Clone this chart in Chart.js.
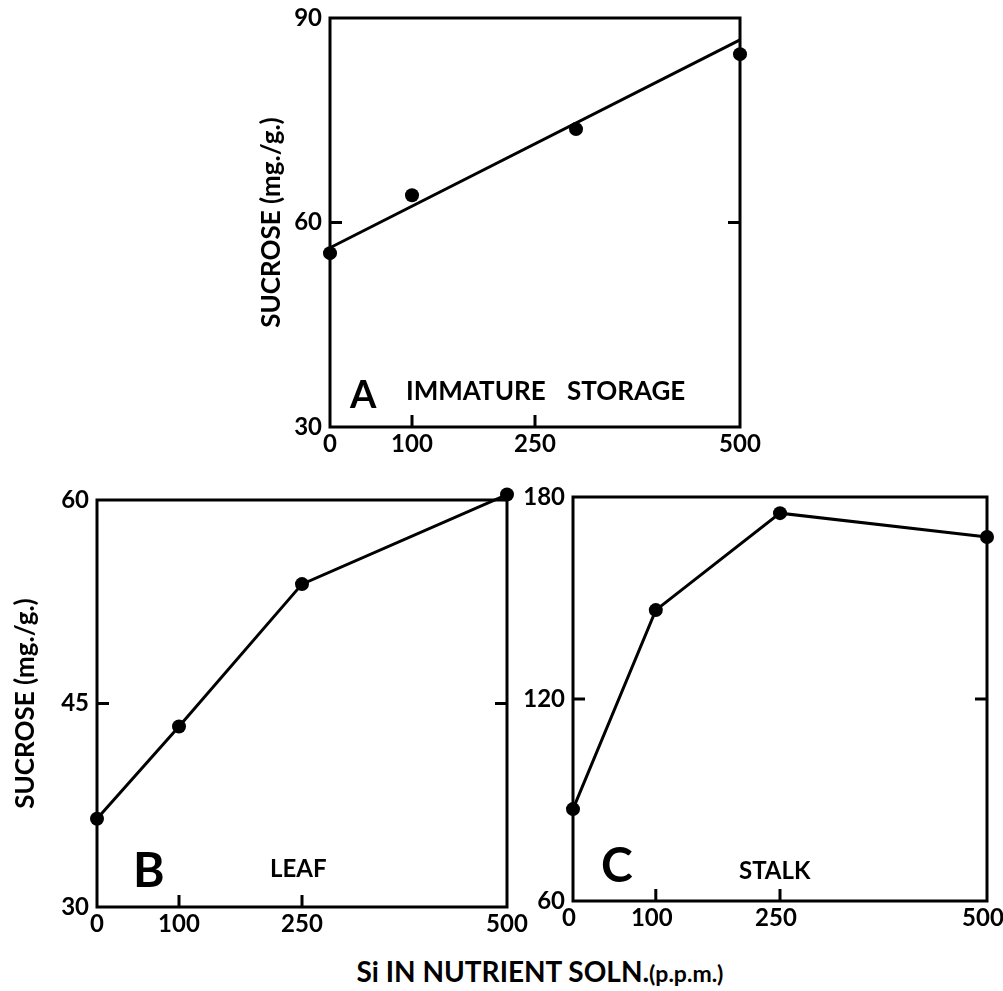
<!DOCTYPE html>
<html>
<head>
<meta charset="utf-8">
<script src="https://cdn.jsdelivr.net/npm/chart.js@4/dist/chart.umd.min.js"></script>
<style>
    body { margin: 0; background: #fff; }
    #page { position: relative; width: 1003px; height: 991px; font-family: Lato, sans-serif; font-weight: 700; color: #000; }
    canvas { position: absolute; }
    #xTitle { position: absolute; left: 290px; width: 500px; top: 957px; text-align: center; font-size: 28px; line-height: 1; white-space: pre; }
    #xTitle span { font-size: 23px; }
</style>
</head>
<body>
<div id="page">
    <canvas id="panelA" width="540" height="470" style="left:230px; top:0px"></canvas>
    <canvas id="panelB" width="545" height="470" style="left:0px; top:480px"></canvas>
    <canvas id="panelC" width="483" height="470" style="left:520px; top:480px"></canvas>
    <div id="xTitle">Si IN NUTRIENT SOLN.<span>(p.p.m.)</span></div>
</div>
<script>
const doseTicks = [0, 100, 250, 500]

const storageDose = [0, 100, 300, 500]
const storageSucrose = [55.5, 64.0, 73.7, 84.7]
const storageFitDose = [0, 500]
const storageFitSucrose = [56.3, 86.8]
const storageTicks = [30, 60, 90]

const leafDose = [0, 100, 250, 500]
const leafSucrose = [36.5, 43.3, 53.8, 60.4]
const leafTicks = [30, 45, 60]

const stalkDose = [0, 100, 250, 500]
const stalkSucrose = [87.3, 146.4, 175.2, 168.1]
const stalkTicks = [60, 120, 180]

const yTitleText = "SUCROSE (mg./g.)"
const tickFont = { family: "Lato", weight: "bold", size: 24 }

function toPoints(xs, ys) {
    return xs.map((x, i) => ({ x, y: ys[i] }))
}

// box round the plot plus the short inner tick marks
const framePlugin = {
    id: "frame",
    beforeDatasetsDraw(chart) {
        const { ctx, chartArea: a, scales } = chart
        const len = 12
        ctx.save()
        ctx.strokeStyle = "#000"
        ctx.lineWidth = 3
        ctx.strokeRect(a.left, a.top, a.right - a.left, a.bottom - a.top)
        ctx.beginPath()
        scales.y.ticks.slice(1, -1).forEach((t) => {
            const py = scales.y.getPixelForValue(t.value)
            ctx.moveTo(a.left, py)
            ctx.lineTo(a.left + len, py)
            ctx.moveTo(a.right, py)
            ctx.lineTo(a.right - len, py)
        })
        scales.x.ticks.slice(1, -1).forEach((t) => {
            const px = scales.x.getPixelForValue(t.value)
            ctx.moveTo(px, a.bottom)
            ctx.lineTo(px, a.bottom - len)
        })
        ctx.stroke()
        ctx.restore()
    }
}

const panelTextPlugin = {
    id: "panelText",
    afterDatasetsDraw(chart, args, opts) {
        const { ctx, chartArea: a } = chart
        ctx.save()
        ctx.fillStyle = "#000"
        ctx.textAlign = "left"
        ctx.textBaseline = "alphabetic"
        ;(opts.items || []).forEach((item) => {
            ctx.font = `700 ${item.size}px Lato`
            ctx.fillText(item.text, a.left + item.dx, a.bottom + item.dy)
        })
        ctx.restore()
    }
}

function pointSeries(points, withLine) {
    return {
        data: points,
        showLine: withLine,
        borderColor: "#000",
        borderWidth: 3,
        backgroundColor: "#000",
        pointRadius: 7,
        pointBackgroundColor: "#000",
        pointBorderWidth: 0,
        clip: false
    }
}

function fitSeries(points) {
    return {
        data: points,
        showLine: true,
        borderColor: "#000",
        borderWidth: 3,
        pointRadius: 0,
        clip: false
    }
}

function makePanel(canvasId, datasets, yTicks, layout) {
    return new Chart(document.getElementById(canvasId), {
        type: "scatter",
        data: { datasets },
        plugins: [framePlugin, panelTextPlugin],
        options: {
            responsive: false,
            animation: false,
            layout: { padding: layout.padding },
            plugins: {
                legend: { display: false },
                tooltip: { enabled: false },
                panelText: { items: layout.texts }
            },
            scales: {
                x: {
                    type: "linear",
                    min: doseTicks[0],
                    max: doseTicks[doseTicks.length - 1],
                    afterBuildTicks: (s) => { s.ticks = doseTicks.map((v) => ({ value: v })) },
                    afterFit: (s) => {
                        s.height = layout.xHeight
                        s.paddingLeft = 0
                        s.paddingRight = 0
                    },
                    grid: { display: false, drawTicks: false },
                    border: { display: false },
                    ticks: {
                        color: "#000",
                        font: tickFont,
                        padding: 3,
                        labelOffset: layout.xLabelShift || 0,
                        maxRotation: 0,
                        autoSkip: false
                    }
                },
                y: {
                    type: "linear",
                    min: yTicks[0],
                    max: yTicks[yTicks.length - 1],
                    afterBuildTicks: (s) => { s.ticks = yTicks.map((v) => ({ value: v })) },
                    afterFit: (s) => {
                        s.width = layout.yWidth
                        s.paddingTop = 0
                        s.paddingBottom = 0
                    },
                    grid: { display: false, drawTicks: false },
                    border: { display: false },
                    ticks: { color: "#000", font: tickFont, padding: 8 },
                    title: {
                        display: !!layout.yTitlePad,
                        text: yTitleText,
                        color: "#000",
                        font: { family: "Lato", weight: "bold", size: 26 },
                        padding: { top: layout.yTitlePad || 0, bottom: 0 }
                    }
                }
            }
        }
    })
}

makePanel("panelA", [
    pointSeries(toPoints(storageDose, storageSucrose), false),
    fitSeries(toPoints(storageFitDose, storageFitSucrose))
], storageTicks, {
    padding: { left: 0, top: 18, right: 30, bottom: 0 },
    yWidth: 100,
    xHeight: 43,
    yTitlePad: 26,
    texts: [
        { text: "A", size: 38, dx: 20, dy: -19 },
        { text: "IMMATURE", size: 26, dx: 76, dy: -27 },
        { text: "STORAGE", size: 26, dx: 237, dy: -27 }
    ]
})

makePanel("panelB", [
    pointSeries(toPoints(leafDose, leafSucrose), true)
], leafTicks, {
    padding: { left: 0, top: 20, right: 38, bottom: 0 },
    yWidth: 97,
    xHeight: 43,
    yTitlePad: 10,
    texts: [
        { text: "B", size: 48, dx: 36, dy: -20 },
        { text: "LEAF", size: 24, dx: 173, dy: -30 }
    ]
})

makePanel("panelC", [
    pointSeries(toPoints(stalkDose, stalkSucrose), true)
], stalkTicks, {
    padding: { left: 0, top: 17, right: 16, bottom: 0 },
    yWidth: 53,
    xHeight: 49,
    yTitlePad: 0,
    xLabelShift: -4,
    texts: [
        { text: "C", size: 48, dx: 28, dy: -19 },
        { text: "STALK", size: 24, dx: 166, dy: -22 }
    ]
})
</script>
</body>
</html>
